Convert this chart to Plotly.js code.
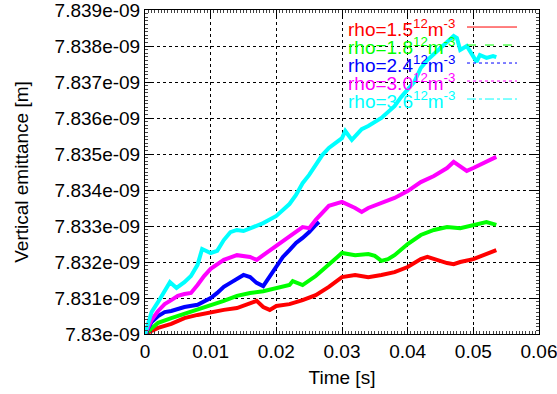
<!DOCTYPE html>
<html><head><meta charset="utf-8">
<script src="https://cdn.plot.ly/plotly-3.0.1.min.js"></script>
<style>html,body{margin:0;padding:0;background:#fff;}#chart{width:557px;height:394px;}</style>
</head><body><div id="chart"></div>
<script>
// values: time [s], vertical emittance in nm (axis labelled in m)
const tRed = [0,0.002,0.004,0.006,0.008,0.010,0.012,0.014,0.016,0.017,0.018,0.019,0.020,0.022,0.024,0.026,0.028,0.030,0.032,0.034,0.036,0.038,0.040,0.042,0.043,0.044,0.046,0.047,0.048,0.050,0.052,0.0535];
const yRed = [7.83000,7.83017,7.83028,7.83044,7.83053,7.83061,7.83067,7.83072,7.83086,7.83092,7.83075,7.83067,7.83078,7.83083,7.83094,7.83108,7.83131,7.83158,7.83164,7.83158,7.83164,7.83172,7.83186,7.83208,7.83214,7.83208,7.83197,7.83194,7.83200,7.83208,7.83222,7.83233];

const tGreen = [0,0.002,0.004,0.006,0.008,0.010,0.012,0.014,0.016,0.018,0.020,0.022,0.0225,0.024,0.026,0.028,0.030,0.032,0.034,0.035,0.036,0.037,0.038,0.040,0.042,0.044,0.046,0.048,0.050,0.052,0.0535];
const yGreen = [7.83000,7.83031,7.83044,7.83056,7.83067,7.83078,7.83092,7.83106,7.83114,7.83119,7.83128,7.83136,7.83147,7.83136,7.83161,7.83194,7.83225,7.83219,7.83222,7.83217,7.83203,7.83208,7.83219,7.83250,7.83275,7.83289,7.83297,7.83294,7.83303,7.83311,7.83303];

const tBlue = [0,0.001,0.002,0.003,0.004,0.006,0.008,0.009,0.010,0.011,0.012,0.013,0.014,0.015,0.016,0.017,0.018,0.019,0.020,0.021,0.022,0.023,0.024,0.025,0.026,0.0265];
const yBlue = [7.83000,7.83033,7.83050,7.83061,7.83064,7.83075,7.83081,7.83089,7.83100,7.83114,7.83131,7.83142,7.83153,7.83164,7.83158,7.83142,7.83133,7.83161,7.83189,7.83214,7.83233,7.83253,7.83267,7.83283,7.83303,7.83311];

const tMagenta = [0,0.001,0.002,0.003,0.004,0.005,0.006,0.007,0.008,0.009,0.010,0.012,0.014,0.016,0.017,0.018,0.020,0.022,0.024,0.025,0.026,0.028,0.030,0.032,0.033,0.034,0.036,0.038,0.040,0.042,0.044,0.046,0.047,0.048,0.049,0.050,0.052,0.0535];
const yMagenta = [7.83000,7.83039,7.83064,7.83083,7.83094,7.83106,7.83111,7.83114,7.83136,7.83161,7.83181,7.83206,7.83219,7.83214,7.83206,7.83219,7.83244,7.83272,7.83297,7.83294,7.83317,7.83356,7.83367,7.83350,7.83339,7.83350,7.83364,7.83378,7.83397,7.83422,7.83439,7.83461,7.83478,7.83467,7.83453,7.83461,7.83478,7.83492];

const tCyan = [0,0.001,0.002,0.003,0.0038,0.0048,0.006,0.007,0.008,0.0087,0.010,0.011,0.012,0.013,0.014,0.015,0.016,0.018,0.020,0.022,0.023,0.024,0.025,0.026,0.027,0.028,0.029,0.030,0.0305,0.0315,0.033,0.034,0.036,0.038,0.039,0.040,0.041,0.042,0.043,0.044,0.045,0.046,0.047,0.0475,0.048,0.049,0.050,0.0505,0.051,0.052,0.053,0.0535];
const yCyan = [7.83000,7.83061,7.83089,7.83117,7.83144,7.83128,7.83144,7.83161,7.83192,7.83236,7.83225,7.83231,7.83261,7.83283,7.83289,7.83286,7.83294,7.83308,7.83328,7.83361,7.83386,7.83419,7.83442,7.83472,7.83497,7.83517,7.83531,7.83544,7.83564,7.83539,7.83569,7.83578,7.83600,7.83633,7.83658,7.83678,7.83700,7.83739,7.83761,7.83778,7.83794,7.83811,7.83828,7.83822,7.83789,7.83800,7.83767,7.83756,7.83775,7.83767,7.83772,7.83769];

const seriesNames = ["rho=1.5<sup>12</sup>m<sup>-3</sup>","rho=1.8<sup>12</sup>m<sup>-3</sup>","rho=2.4<sup>12</sup>m<sup>-3</sup>","rho=3.0<sup>12</sup>m<sup>-3</sup>","rho=3.6<sup>12</sup>m<sup>-3</sup>"];
const seriesColors = ["#ff0000","#00ff00","#0000ff","#ff00ff","#00ffff"];
const legendDash = ["solid","dash","dot","dot","dashdot"];

const xTickVals = [0,0.01,0.02,0.03,0.04,0.05,0.06];
const xTickText = ["0","0.01","0.02","0.03","0.04","0.05","0.06"];
const yTickVals = [7.830,7.831,7.832,7.833,7.834,7.835,7.836,7.837,7.838,7.839];
const yTickText = ["7.83e-09","7.831e-09","7.832e-09","7.833e-09","7.834e-09","7.835e-09","7.836e-09","7.837e-09","7.838e-09","7.839e-09"];

const xs = [tRed,tGreen,tBlue,tMagenta,tCyan];
const ys = [yRed,yGreen,yBlue,yMagenta,yCyan];

const traces = xs.map((x,i)=>({
  x:x, y:ys[i], type:'scatter', mode:'lines', name:seriesNames[i],
  line:{color:seriesColors[i], width:4}, showlegend:false, hoverinfo:'skip'
}));

const font = {family:'"Liberation Sans", Arial, sans-serif', size:19, color:'#000'};

// key (gnuplot-style): text right-aligned, sample line to the right
const annotations = [];
const shapes = [
  {type:'rect', xref:'paper', yref:'paper', x0:0.287, x1:1, y0:0.6975, y1:1, fillcolor:'#fff', line:{width:0}, layer:'between'}
];
seriesNames.forEach((n,i)=>{
  const yp = (334 - (28 + 18*i)) / 324;
  annotations.push({xref:'paper', yref:'paper', x:(457-145)/394, y:yp, xanchor:'right', yanchor:'middle',
    text:n, showarrow:false, font:{family:font.family, size:19, color:seriesColors[i]}});
  shapes.push({type:'line', xref:'paper', yref:'paper', x0:(467-145)/394, x1:(517-145)/394, y0:yp+0.003, y1:yp+0.003,
    line:{color:seriesColors[i], width:1, dash:legendDash[i]}, layer:'above'});
});

const axisCommon = {
  showline:true, linecolor:'#000', linewidth:1, mirror:'ticks', ticks:'inside', ticklen:7, tickcolor:'#000', tickwidth:1,
  showgrid:true, gridcolor:'#000', griddash:'dot', gridwidth:1, zeroline:false, tickfont:font,
  ticklabeloverflow:'allow'
};

const layout = {
  width:557, height:394, margin:{l:145, r:18, t:10, b:60},
  paper_bgcolor:'#fff', plot_bgcolor:'#fff', font:font, showlegend:false,
  xaxis:Object.assign({}, axisCommon, {range:[0,0.06], tickmode:'array', tickvals:xTickVals, ticktext:xTickText,
    title:{text:'Time [s]', font:font, standoff:9},
    minor:{ticks:'inside', ticklen:3, dtick:0.0005, tickcolor:'#444', showgrid:false}}),
  yaxis:Object.assign({}, axisCommon, {range:[7.830,7.839], tickmode:'array', tickvals:yTickVals, ticktext:yTickText,
    title:{text:'Vertical emittance [m]', font:font, standoff:20},
    minor:{ticks:'inside', ticklen:3, dtick:0.0001, tickcolor:'#444', showgrid:false}}),
  annotations:annotations, shapes:shapes
};

Plotly.newPlot('chart', traces, layout, {staticPlot:true, displayModeBar:false});
</script></body></html>
